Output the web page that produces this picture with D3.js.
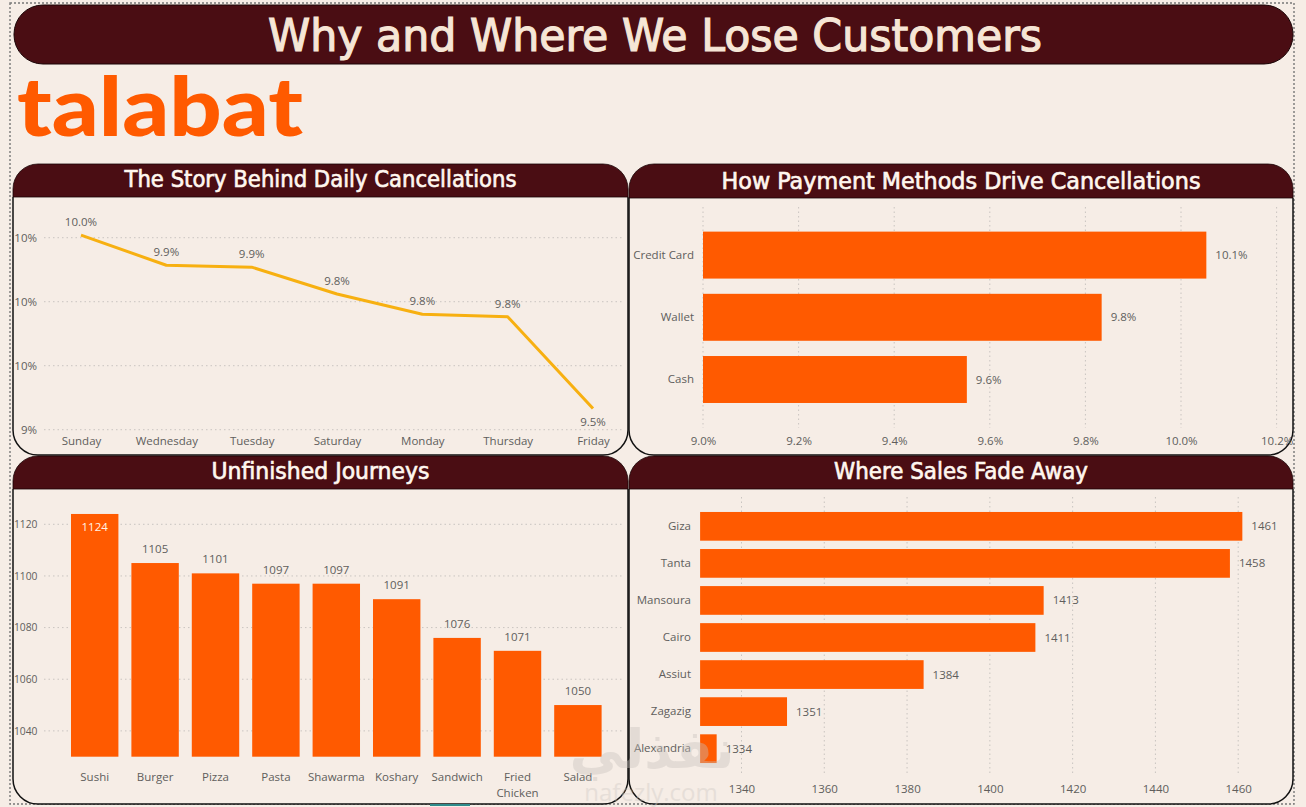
<!DOCTYPE html>
<html>
<head>
<meta charset="utf-8">
<script src="https://cdn.jsdelivr.net/npm/d3@7"></script>
<style>
  html, body { margin: 0; padding: 0; background: #f6ede6; }
  svg { display: block; }
  .lbl { font-family: "Open Sans", "Noto Sans", sans-serif; font-size: 11.5px; fill: #605e5c; }
  .axis text { font-family: "Open Sans", "Noto Sans", sans-serif; font-size: 11.5px; fill: #605e5c; }
  .axis.small text { font-size: 10.3px; }
  .axis path, .axis line { display: none; }
  .grid { stroke: #c9c4c0; stroke-width: 1; stroke-dasharray: 1.5,3; }
</style>
</head>
<body>
<svg id="chart" width="1306" height="807"></svg>
<script>
// ---------- DATA ----------
const dashboardTitle = "Why and Where We Lose Customers";
const brandName = "talabat";

const dayTitle = "The Story Behind Daily Cancellations";
const days = ["Sunday", "Wednesday", "Tuesday", "Saturday", "Monday", "Thursday", "Friday"];
const dayCancelRate = [10.008, 9.914, 9.908, 9.824, 9.761, 9.753, 9.466];
const dayTicks = [9.4, 9.6, 9.8, 10.0];

const payTitle = "How Payment Methods Drive Cancellations";
const payMethods = ["Credit Card", "Wallet", "Cash"];
const payCancelRate = [10.053, 9.834, 9.552];
const payTicks = [9.0, 9.2, 9.4, 9.6, 9.8, 10.0, 10.2];

const foodTitle = "Unfinished Journeys";
const foods = ["Sushi", "Burger", "Pizza", "Pasta", "Shawarma", "Koshary", "Sandwich", "Fried Chicken", "Salad"];
const foodCancels = [1124, 1105, 1101, 1097, 1097, 1091, 1076, 1071, 1050];
const foodTicks = [1040, 1060, 1080, 1100, 1120];

const cityTitle = "Where Sales Fade Away";
const cities = ["Giza", "Tanta", "Mansoura", "Cairo", "Assiut", "Zagazig", "Alexandria"];
const citySales = [1461, 1458, 1413, 1411, 1384, 1351, 1334];
const cityTicks = [1340, 1360, 1380, 1400, 1420, 1440, 1460];

const watermarkArabic = "نفذلي";
const watermarkLatin = "nafezly.com";

// ---------- STYLE ----------
const MAROON = "#4a0d13";
const ORANGE = "#ff5a00";
const LINE = "#f7b011";
const CREAM = "#f6ede6";
const TITLEFONT = '"DejaVu Sans Condensed", "Liberation Sans Narrow", sans-serif';

const svg = d3.select("#chart");

// page background + dotted frame
svg.append("rect").attr("x", 0).attr("y", 0).attr("width", 1306).attr("height", 807).attr("fill", CREAM);
svg.append("rect").attr("x", 10).attr("y", 3).attr("width", 1284).attr("height", 801)
  .attr("fill", "none").attr("stroke", "#777").attr("stroke-width", 1.4).attr("stroke-dasharray", "2,2");

// title bar
svg.append("rect").attr("x", 14).attr("y", 5).attr("width", 1279).attr("height", 59).attr("rx", 29)
  .attr("fill", MAROON).attr("stroke", "#1a0406").attr("stroke-width", 1);
svg.append("text").attr("x", 655).attr("y", 51).attr("text-anchor", "middle")
  .attr("font-family", TITLEFONT).attr("font-weight", "normal").attr("font-size", 45)
  .attr("fill", "#f6e6d6").attr("stroke", "#f6e6d6").attr("stroke-width", 1.1)
  .attr("textLength", 774).attr("lengthAdjust", "spacingAndGlyphs")
  .text(dashboardTitle);

// brand
svg.append("text").attr("x", 17).attr("y", 136)
  .attr("font-family", 'Lato, "Open Sans", sans-serif').attr("font-weight", 900).attr("font-size", 82)
  .attr("fill", ORANGE).attr("textLength", 286).attr("lengthAdjust", "spacingAndGlyphs")
  .text(brandName);

// panel frames
function panel(x, y, w, h, hh, title, titleW, titleBase) {
  const r = 25;
  const g = svg.append("g");
  g.append("path")
    .attr("d", `M${x},${y + hh} L${x},${y + h - r} A${r},${r} 0 0 0 ${x + r},${y + h} L${x + w - r},${y + h} A${r},${r} 0 0 0 ${x + w},${y + h - r} L${x + w},${y + hh}`)
    .attr("fill", CREAM).attr("stroke", "#111").attr("stroke-width", 1.5);
  g.append("path")
    .attr("d", `M${x},${y + hh} L${x},${y + r} A${r},${r} 0 0 1 ${x + r},${y} L${x + w - r},${y} A${r},${r} 0 0 1 ${x + w},${y + r} L${x + w},${y + hh} Z`)
    .attr("fill", MAROON).attr("stroke", "#1a0406").attr("stroke-width", 0.8);
  g.append("text").attr("x", x + w / 2).attr("y", titleBase).attr("text-anchor", "middle")
    .attr("font-family", TITLEFONT).attr("font-weight", "normal").attr("font-size", 22.5)
    .attr("fill", "#fff7ef").attr("stroke", "#fff7ef").attr("stroke-width", 0.6)
    .attr("textLength", titleW).attr("lengthAdjust", "spacingAndGlyphs")
    .text(title);
}
panel(13, 164, 615, 291, 33, dayTitle, 392, 187);
panel(629, 164, 664, 291, 34, payTitle, 479, 189);
panel(13, 456, 615, 348, 33, foodTitle, 218, 479);
panel(629, 456, 664, 348, 33, cityTitle, 254, 479);

// ---------- 1. Line chart: daily cancellations ----------
{
  const x = d3.scalePoint().domain(days).range([81, 593]);
  const y = d3.scaleLinear().domain([9.4, 10.0]).range([429.7, 237.7]);
  const g = svg.append("g");
  g.selectAll("line.grid").data(dayTicks).join("line").attr("class", "grid")
    .attr("x1", 44).attr("x2", 624).attr("y1", d => y(d)).attr("y2", d => y(d));
  g.append("g").attr("class", "axis").attr("transform", "translate(37,0)")
    .call(d3.axisLeft(y).tickValues(dayTicks).tickSize(0).tickPadding(0).tickFormat(d => d3.format(".0f")(d) + "%"));
  g.append("g").attr("class", "axis").attr("transform", "translate(0,437)")
    .call(d3.axisBottom(x).tickSize(0).tickPadding(0));
  const pts = days.map((d, i) => [x(d), y(dayCancelRate[i])]);
  g.append("path").attr("d", d3.line()(pts)).attr("fill", "none").attr("stroke", LINE)
    .attr("stroke-width", 3).attr("stroke-linejoin", "round");
  const minV = d3.min(dayCancelRate);
  g.selectAll("text.dl").data(days).join("text").attr("class", "lbl")
    .attr("text-anchor", "middle")
    .attr("x", d => x(d))
    .attr("y", (d, i) => y(dayCancelRate[i]) + (dayCancelRate[i] === minV ? 17 : -9))
    .text((d, i) => d3.format(".1f")(dayCancelRate[i]) + "%");
}

// ---------- 2. Horizontal bars: payment methods ----------
{
  const x = d3.scaleLinear().domain([9.0, 10.0]).range([703, 1181]);
  const y = d3.scaleBand().domain(payMethods).range([224, 410.6]).paddingInner(0.245).paddingOuter(0.1225);
  const g = svg.append("g");
  g.selectAll("line.grid").data(payTicks).join("line").attr("class", "grid")
    .attr("x1", d => x(d)).attr("x2", d => x(d)).attr("y1", 207).attr("y2", 428);
  g.selectAll("rect").data(payMethods).join("rect")
    .attr("x", x(9.0)).attr("y", d => y(d)).attr("height", y.bandwidth())
    .attr("width", (d, i) => x(payCancelRate[i]) - x(9.0)).attr("fill", ORANGE);
  g.append("g").attr("class", "axis").attr("transform", "translate(694,0)")
    .call(d3.axisLeft(y).tickSize(0).tickPadding(0));
  g.append("g").attr("class", "axis").attr("transform", "translate(0,437)")
    .call(d3.axisBottom(x).tickValues(payTicks).tickSize(0).tickPadding(0).tickFormat(d => d3.format(".1f")(d) + "%"));
  g.selectAll("text.dl").data(payMethods).join("text").attr("class", "lbl")
    .attr("x", (d, i) => x(payCancelRate[i]) + 9)
    .attr("y", d => y(d) + y.bandwidth() / 2).attr("dy", "0.35em")
    .text((d, i) => d3.format(".1f")(payCancelRate[i]) + "%");
}

// ---------- 3. Vertical bars: food categories ----------
{
  const x = d3.scaleBand().domain(foods).range([64.5, 608.1]).paddingInner(0.215).paddingOuter(0.1075);
  const y = d3.scaleLinear().domain([1030, 1120]).range([756.7, 524.3]);
  const g = svg.append("g");
  g.selectAll("line.grid").data(foodTicks).join("line").attr("class", "grid")
    .attr("x1", 44).attr("x2", 624).attr("y1", d => y(d)).attr("y2", d => y(d));
  g.selectAll("rect").data(foods).join("rect")
    .attr("x", d => x(d)).attr("width", x.bandwidth())
    .attr("y", (d, i) => y(foodCancels[i])).attr("height", (d, i) => y(1030) - y(foodCancels[i]))
    .attr("fill", ORANGE);
  g.append("g").attr("class", "axis small").attr("transform", "translate(37.5,0)")
    .call(d3.axisLeft(y).tickValues(foodTicks).tickSize(0).tickPadding(0).tickFormat(d3.format("d")));
  const xa = g.append("g").attr("class", "axis").attr("transform", "translate(0,773)")
    .call(d3.axisBottom(x).tickSize(0).tickPadding(0));
  xa.selectAll("text").each(function (d) {
    const words = d.split(" ");
    if (words.length > 1) {
      const t = d3.select(this).text(null);
      words.forEach((w, k) => t.append("tspan").attr("x", 0).attr("dy", k === 0 ? "0.71em" : "1.4em").text(w));
    }
  });
  const plotTop = 512;
  g.selectAll("text.dl").data(foods).join("text").attr("class", "lbl")
    .attr("text-anchor", "middle")
    .attr("x", d => x(d) + x.bandwidth() / 2)
    .attr("y", (d, i) => {
      const top = y(foodCancels[i]);
      return top - 14 < plotTop ? top + 17 : top - 10;
    })
    .style("fill", (d, i) => (y(foodCancels[i]) - 14 < plotTop ? "#fff4e6" : null))
    .text((d, i) => foodCancels[i]);
}

// ---------- 4. Horizontal bars: cities ----------
{
  const x = d3.scaleLinear().domain([1330, 1460]).range([700.1, 1238.2]);
  const y = d3.scaleBand().domain(cities).range([507.8, 767.2]).paddingInner(0.225).paddingOuter(0.1125);
  const g = svg.append("g");
  g.selectAll("line.grid").data(cityTicks).join("line").attr("class", "grid")
    .attr("x1", d => x(d)).attr("x2", d => x(d)).attr("y1", 497).attr("y2", 776);
  g.selectAll("rect").data(cities).join("rect")
    .attr("x", x(1330)).attr("y", d => y(d)).attr("height", y.bandwidth())
    .attr("width", (d, i) => x(citySales[i]) - x(1330)).attr("fill", ORANGE);
  g.append("g").attr("class", "axis").attr("transform", "translate(691,0)")
    .call(d3.axisLeft(y).tickSize(0).tickPadding(0));
  g.append("g").attr("class", "axis").attr("transform", "translate(0,785)")
    .call(d3.axisBottom(x).tickValues(cityTicks).tickSize(0).tickPadding(0).tickFormat(d3.format("d")));
  g.selectAll("text.dl").data(cities).join("text").attr("class", "lbl")
    .attr("x", (d, i) => x(citySales[i]) + 9)
    .attr("y", d => y(d) + y.bandwidth() / 2).attr("dy", "0.35em")
    .text((d, i) => citySales[i]);
}

// ---------- watermark ----------
svg.append("text").attr("x", 652).attr("y", 768).attr("text-anchor", "middle")
  .attr("font-family", '"DejaVu Sans", sans-serif').attr("font-weight", "bold").attr("font-size", 54)
  .attr("fill", "#c8c2bd").attr("opacity", 0.4).text(watermarkArabic);
svg.append("text").attr("x", 651).attr("y", 801).attr("text-anchor", "middle")
  .attr("font-family", '"Open Sans", sans-serif').attr("font-size", 24)
  .attr("fill", "#cfc9c4").attr("opacity", 0.4).text(watermarkLatin);
svg.append("rect").attr("x", 430).attr("y", 804).attr("width", 40).attr("height", 2).attr("fill", "#2e8b8b");
</script>
</body>
</html>
